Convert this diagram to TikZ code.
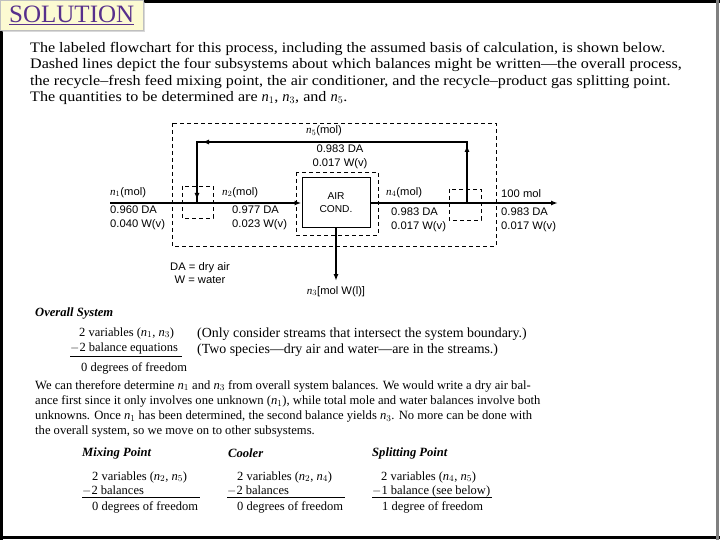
\documentclass[tikz,border=0pt]{standalone}
\usepackage{fontspec}
\setmainfont{Liberation Serif}
\setsansfont{Liberation Sans}[FakeStretch=1.02]
\newfontfamily\introfont{Liberation Serif}[Ligatures=TeX,FakeStretch=1.11]
\usetikzlibrary{arrows.meta,calc,shadows}
\definecolor{solpurple}{RGB}{88,48,140}
\definecolor{solyellow}{RGB}{252,250,210}
\newcommand{\nv}[1]{{\rmfamily\itshape n}$_{#1}$}

\begin{document}
\begin{tikzpicture}[x=1pt,y=-1pt,
  pipe/.style={line width=1.5pt,-{Latex[length=7pt,width=5pt]}},
  line/.style={line width=1.5pt},
  sysbox/.style={line width=0.9pt,dash pattern=on 4pt off 3pt},
  lbl/.style={font=\sffamily\fontsize{11}{13.8}\selectfont,inner sep=0pt,align=left,anchor=north west},
  txt/.style={font=\fontsize{12.5}{15}\selectfont,inner sep=0pt,anchor=west},
  head/.style={txt,font=\fontsize{12.6}{15}\selectfont\bfseries\itshape}
]
\useasboundingbox (0,0) rectangle (720,540);
\fill[white] (0,0) rectangle (720,540);
% slide frame
\draw[line width=3pt] (1.5,0) -- (1.5,540);
\draw[line width=3pt] (0,537.5) -- (720,537.5);
\draw[line width=2.5pt] (0,1.5) -- (720,1.5);
\draw[gray,line width=2.5pt] (717.5,0) -- (717.5,540);

\node[draw=gray!50,fill=solyellow,minimum width=143pt,minimum height=30pt,anchor=north west,
  drop shadow={shadow xshift=2pt,shadow yshift=-2pt,fill=gray!60}] (sol) at (0,0)
  {\color{solpurple}\fontsize{25}{25}\selectfont\underline{SOLUTION}};

\node[font=\introfont\fontsize{14.5}{16.3}\selectfont,anchor=north west,inner sep=0pt,align=left] (intro) at (30,42)
  {The labeled flowchart for this process, including the assumed basis of calculation, is shown below.\\
   Dashed lines depict the four subsystems about which balances might be written---the overall process,\\
   the recycle--fresh feed mixing point, the air conditioner, and the recycle--product gas splitting point.\\
   The quantities to be determined are \nv1, \nv3, and \nv5.};

% flowchart
\coordinate (feed) at (110,203);
\coordinate (mix) at (197,203);
\coordinate (split) at (467,203);
\coordinate (prod) at (558,203);
\coordinate (rtop) at (467,142);
\coordinate (ltop) at (197,142);
\node[draw,line width=1pt,minimum width=68pt,minimum height=50pt,font=\sffamily\fontsize{10}{13}\selectfont,align=center] (aircond) at (336,203) {AIR\\COND.};
\node[lbl,anchor=north] (wout) at (336,286) {\nv3[mol W(l)]};

\draw[pipe] (feed) -- (aircond.west);
\draw[pipe] (aircond.east) -- (prod);
\draw[pipe,shorten >=5pt] (aircond.south) -- (wout.north);
\draw[line] (split) -- (rtop) -- (ltop) -- (mix);
\draw[pipe] (split) -- ($(rtop)+(0,3)$);
\draw[pipe] (rtop) -- ($(ltop)+(5,0)$);
\draw[pipe] (ltop) -- ($(mix)+(0,-3)$);

\draw[sysbox] (172,123) rectangle (496,246); % overall
\draw[sysbox] (182,186) rectangle (213,218); % mixing point
\draw[sysbox] (296,172) rectangle (378,235); % air conditioner
\draw[sysbox] (449,189) rectangle (481,220); % splitting point

\node[lbl] (n1) at (110,187) {\nv1(mol)};
\node[lbl] (x1) at (110,206) {0.960 DA\\0.040 W(v)};
\node[lbl] (n2) at (222,187) {\nv2(mol)};
\node[lbl] (x2) at (232,206) {0.977 DA\\0.023 W(v)};
\node[lbl] (n4) at (386,187) {\nv4(mol)};
\node[lbl] (x4) at (391,208) {0.983 DA\\0.017 W(v)};
\node[lbl] (n6) at (501,189) {100 mol};
\node[lbl] (x6) at (501,208) {0.983 DA\\0.017 W(v)};
\node[lbl,anchor=center] (n5) at (324,131) {\nv5(mol)};
\node[lbl,anchor=north,align=center] (x5) at (340,145) {0.983 DA\\0.017 W(v)};
\node[lbl,anchor=north,align=center] (key) at (200,262) {DA = dry air\\W = water};

% overall system
\node[head] (hover) at (35,313) {Overall System};
\node[txt] (ov1) at (79,333) {2 variables (\nv1, \nv3)};
\node[txt] (ov2) at (70,348) {$-$2 balance equations};
\draw (70,356) -- (182,356);
\node[txt] (ov3) at (81,368) {0 degrees of freedom};
\node[txt,font=\fontsize{13.9}{15}\selectfont] (ovr1) at (197,334) {(Only consider streams that intersect the system boundary.)};
\node[txt,font=\fontsize{13.9}{15}\selectfont] (ovr2) at (197,350) {(Two species---dry air and water---are in the streams.)};

\node[font=\fontsize{12.6}{15.3}\selectfont,anchor=north west,inner sep=0pt,align=left] (expl) at (35,380)
  {We can therefore determine \nv1 and \nv3 from overall system balances. We would write a dry air bal-\\
   ance first since it only involves one unknown (\nv1), while total mole and water balances involve both\\
   unknowns. Once \nv1 has been determined, the second balance yields \nv3. No more can be done with\\
   the overall system, so we move on to other subsystems.};

% subsystems
\node[head] (hmix) at (82,453) {Mixing Point};
\node[txt] (m1) at (92,477) {2 variables (\nv2, \nv5)};
\node[txt] (m2) at (82,491) {$-$2 balances};
\draw (82,497) -- (200,497);
\node[txt] (m3) at (92,507) {0 degrees of freedom};

\node[head] (hcool) at (228,453) {Cooler};
\node[txt] (c1) at (237,477) {2 variables (\nv2, \nv4)};
\node[txt] (c2) at (227,491) {$-$2 balances};
\draw (227,497) -- (345,497);
\node[txt] (c3) at (237,507) {0 degrees of freedom};

\node[head] (hsplit) at (372,453) {Splitting Point};
\node[txt] (s1) at (381,477) {2 variables (\nv4, \nv5)};
\node[txt] (s2) at (372,491) {$-$1 balance (see below)};
\draw (372,497) -- (492,497);
\node[txt] (s3) at (382,507) {1 degree of freedom};
\end{tikzpicture}
\end{document}
